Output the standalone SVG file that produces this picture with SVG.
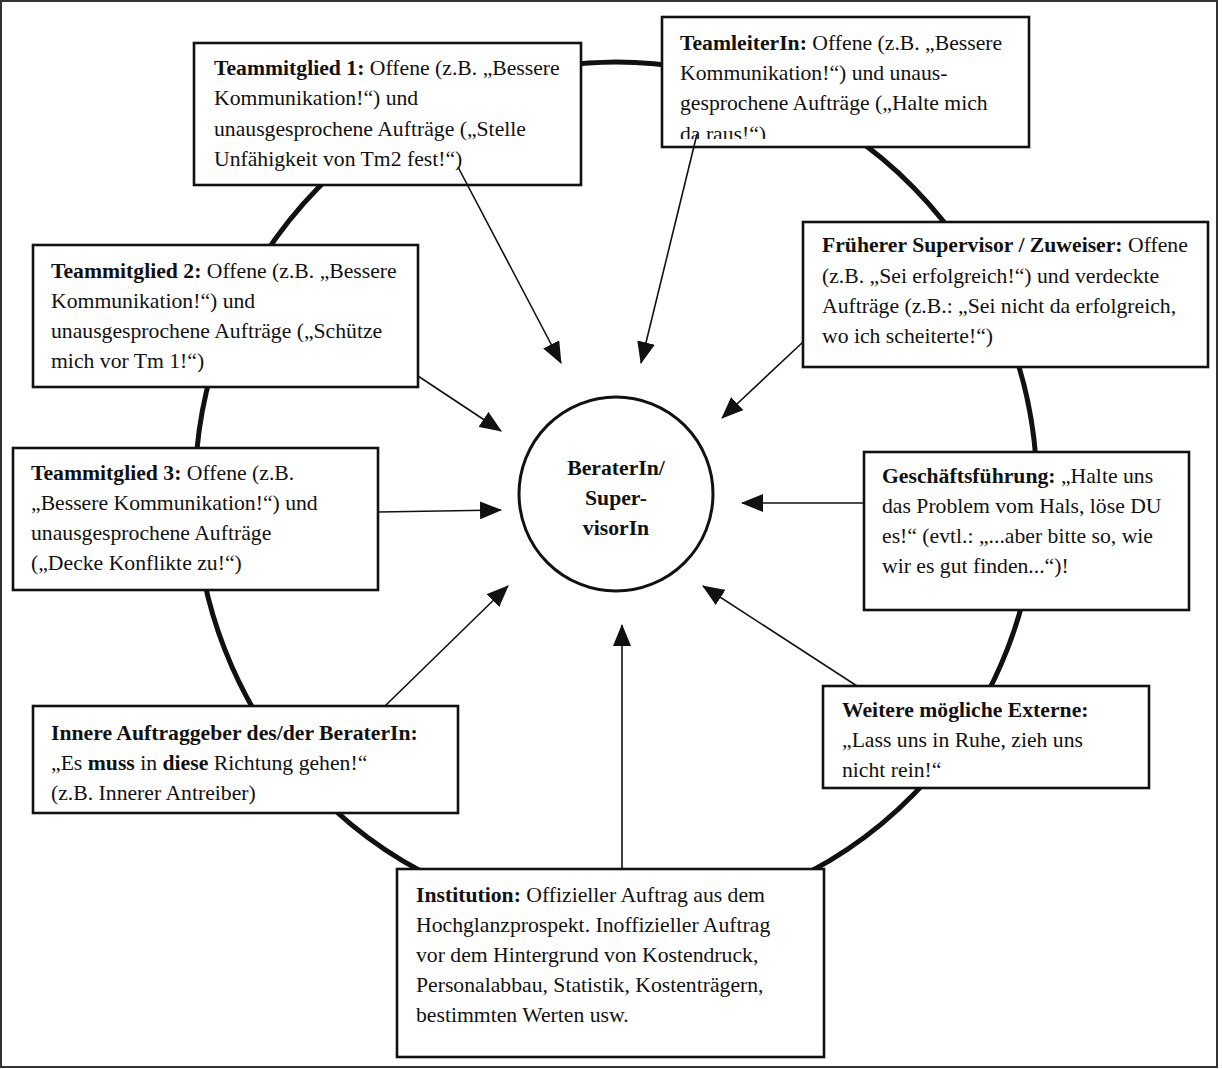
<svg xmlns="http://www.w3.org/2000/svg" width="1222" height="1069" viewBox="0 0 1222 1069">
<style>
.box{fill:#fff;stroke:#111;stroke-width:2.6}
.t{font-family:"Liberation Serif","Times New Roman",serif;font-size:21.7px;fill:#111}
.b{font-weight:bold}
.con{stroke:#111;stroke-width:1.6;fill:none;marker-end:url(#ah)}
</style>
<defs>
<marker id="ah" markerUnits="userSpaceOnUse" markerWidth="22" markerHeight="18" refX="21" refY="9" orient="auto">
<path d="M0,0 L22,9 L0,18 z" fill="#111"/>
</marker>
<clipPath id="clipTL"><rect x="662" y="17" width="367" height="122"/></clipPath>
</defs>
<rect x="1" y="1" width="1216" height="1066" fill="#fff" stroke="#333" stroke-width="2"/>
<ellipse cx="616" cy="491" rx="421" ry="429" fill="none" stroke="#111" stroke-width="5"/>

<g id="center">
<circle cx="616" cy="494" r="97" fill="#fff" stroke="#111" stroke-width="3"/>
<text class="t b" text-anchor="middle" x="616" y="475">BeraterIn/</text>
<text class="t b" text-anchor="middle" x="616" y="505">Super-</text>
<text class="t b" text-anchor="middle" x="616" y="535">visorIn</text>
</g>

<g id="tm1">
<rect class="box" x="194" y="43" width="387" height="142"/>
<text class="t" x="214" y="75"><tspan class="b">Teammitglied 1:</tspan> Offene (z.B. „Bessere</text>
<text class="t" x="214" y="105">Kommunikation!“) und</text>
<text class="t" x="214" y="136">unausgesprochene Aufträge („Stelle</text>
<text class="t" x="214" y="166">Unfähigkeit von Tm2 fest!“)</text>
</g>

<g id="teamleiter">
<rect class="box" x="662" y="17" width="367" height="130"/>
<g clip-path="url(#clipTL)">
<text class="t" x="680" y="50"><tspan class="b">TeamleiterIn:</tspan> Offene (z.B. „Bessere</text>
<text class="t" x="680" y="80">Kommunikation!“) und unaus-</text>
<text class="t" x="680" y="110">gesprochene Aufträge („Halte mich</text>
<text class="t" x="680" y="141">da raus!“)</text>
</g>
</g>

<g id="frueherer">
<rect class="box" x="803" y="222" width="405" height="145"/>
<text class="t" x="822" y="252"><tspan class="b">Früherer Supervisor / Zuweiser:</tspan> Offene</text>
<text class="t" x="822" y="283">(z.B. „Sei erfolgreich!“) und verdeckte</text>
<text class="t" x="822" y="313">Aufträge (z.B.: „Sei nicht da erfolgreich,</text>
<text class="t" x="822" y="343">wo ich scheiterte!“)</text>
</g>

<g id="tm2">
<rect class="box" x="33" y="245" width="385" height="142"/>
<text class="t" x="51" y="278"><tspan class="b">Teammitglied 2:</tspan> Offene (z.B. „Bessere</text>
<text class="t" x="51" y="308">Kommunikation!“) und</text>
<text class="t" x="51" y="338">unausgesprochene Aufträge („Schütze</text>
<text class="t" x="51" y="368">mich vor Tm 1!“)</text>
</g>

<g id="tm3">
<rect class="box" x="13" y="448" width="365" height="142"/>
<text class="t" x="31" y="480"><tspan class="b">Teammitglied 3:</tspan> Offene (z.B.</text>
<text class="t" x="31" y="510">„Bessere Kommunikation!“) und</text>
<text class="t" x="31" y="540">unausgesprochene Aufträge</text>
<text class="t" x="31" y="570">(„Decke Konflikte zu!“)</text>
</g>

<g id="geschaeftsfuehrung">
<rect class="box" x="864" y="452" width="325" height="158"/>
<text class="t" x="882" y="483"><tspan class="b">Geschäftsführung:</tspan> „Halte uns</text>
<text class="t" x="882" y="513">das Problem vom Hals, löse DU</text>
<text class="t" x="882" y="543">es!“ (evtl.: „...aber bitte so, wie</text>
<text class="t" x="882" y="573">wir es gut finden...“)!</text>
</g>

<g id="innere">
<rect class="box" x="33" y="706" width="425" height="107"/>
<text class="t" x="51" y="740"><tspan class="b">Innere Auftraggeber des/der BeraterIn:</tspan></text>
<text class="t" x="51" y="770">„Es <tspan class="b">muss</tspan> in <tspan class="b">diese</tspan> Richtung gehen!“</text>
<text class="t" x="51" y="800">(z.B. Innerer Antreiber)</text>
</g>

<g id="weitere">
<rect class="box" x="823" y="686" width="326" height="102"/>
<text class="t" x="842" y="717"><tspan class="b">Weitere mögliche Externe:</tspan></text>
<text class="t" x="842" y="747">„Lass uns in Ruhe, zieh uns</text>
<text class="t" x="842" y="777">nicht rein!“</text>
</g>

<g id="institution">
<rect class="box" x="397" y="869" width="427" height="188"/>
<text class="t" x="416" y="902"><tspan class="b">Institution:</tspan> Offizieller Auftrag aus dem</text>
<text class="t" x="416" y="932">Hochglanzprospekt. Inoffizieller Auftrag</text>
<text class="t" x="416" y="962">vor dem Hintergrund von Kostendruck,</text>
<text class="t" x="416" y="992">Personalabbau, Statistik, Kostenträgern,</text>
<text class="t" x="416" y="1022">bestimmten Werten usw.</text>
</g>

<g id="connectors">
<line class="con" x1="458" y1="167" x2="561" y2="363"/>
<line class="con" x1="697" y1="134" x2="641" y2="363"/>
<line class="con" x1="803" y1="342" x2="722" y2="418"/>
<line class="con" x1="418" y1="376" x2="501" y2="431"/>
<line class="con" x1="378" y1="512" x2="501" y2="510"/>
<line class="con" x1="864" y1="503" x2="742" y2="503"/>
<line class="con" x1="385" y1="706" x2="508" y2="586"/>
<line class="con" x1="857" y1="686" x2="703" y2="586"/>
<line class="con" x1="622" y1="869" x2="622" y2="625"/>
</g>
</svg>
